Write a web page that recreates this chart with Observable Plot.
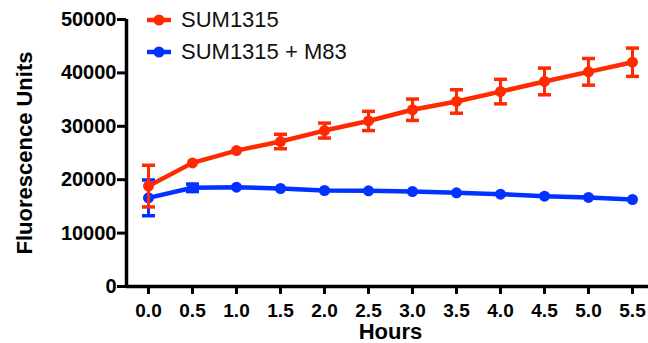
<!DOCTYPE html>
<html>
<head>
<meta charset="utf-8">
<script src="https://cdn.jsdelivr.net/npm/d3@7"></script>
<script src="https://cdn.jsdelivr.net/npm/@observablehq/plot@0.6"></script>
<style>
  html, body { margin: 0; padding: 0; background: white; }
  #wrap { position: relative; width: 648px; height: 343px; }
  #legend { position: absolute; left: 146px; top: 4px; font-family: "Liberation Sans", Arial, sans-serif; font-size: 22px; color: #111; }
  .item { display: flex; align-items: center; height: 32px; }
  .item svg { margin-right: 9px; }
</style>
</head>
<body>
<div id="wrap"><div id="legend"></div></div>
<script>
const hours = [0.0, 0.5, 1.0, 1.5, 2.0, 2.5, 3.0, 3.5, 4.0, 4.5, 5.0, 5.5];
const seriesNames = ["SUM1315", "SUM1315 + M83"];
const seriesColors = ["#ff2a00", "#0033ff"];
const sum1315Mean = [18800, 23150, 25450, 27150, 29200, 31000, 33100, 34650, 36500, 38400, 40200, 42000];
const sum1315Err  = [3900, 500, 400, 1350, 1400, 1800, 2000, 2200, 2300, 2500, 2500, 2650];
const m83Mean = [16600, 18480, 18600, 18350, 17980, 17920, 17790, 17540, 17290, 16910, 16670, 16290];
const m83Err  = [3350, 700, 300, 300, 300, 300, 300, 300, 300, 300, 300, 300];
const yTicks = [0, 10000, 20000, 30000, 40000, 50000];
const xDomain = [-0.25, 5.682];
const yDomain = [0, 50000];
const yTitle = "Fluorescence Units";
const xTitle = "Hours";

function rows(name, means, errs) {
  return hours.map((h, i) => ({series: name, hour: h, value: means[i], lo: means[i] - errs[i], hi: means[i] + errs[i], err: errs[i]}));
}
const blueData = rows(seriesNames[1], m83Mean, m83Err);
const redData = rows(seriesNames[0], sum1315Mean, sum1315Err);

const hline = { draw(ctx, size) { const w = Math.sqrt(size / Math.PI); ctx.moveTo(-w, 0); ctx.lineTo(w, 0); } };

function seriesMarks(data, color) {
  const withBars = data.filter(d => d.err > 600);
  return [
    Plot.ruleX(withBars, {x: "hour", y1: "lo", y2: "hi", stroke: color, strokeWidth: 3}),
    Plot.dot(withBars, {x: "hour", y: "lo", symbol: hline, r: 6.5, stroke: color, strokeWidth: 3.5, fill: "none"}),
    Plot.dot(withBars, {x: "hour", y: "hi", symbol: hline, r: 6.5, stroke: color, strokeWidth: 3.5, fill: "none"}),
    Plot.line(data, {x: "hour", y: "value", stroke: color, strokeWidth: 4.5}),
    Plot.dot(data, {x: "hour", y: "value", r: 5.5, fill: color, stroke: "none"})
  ];
}

const chart = Plot.plot({
  width: 648,
  height: 343,
  marginLeft: 126,
  marginRight: 0,
  marginTop: 19,
  marginBottom: 57,
  x: {domain: xDomain},
  y: {domain: yDomain},
  style: {fontFamily: "'Liberation Sans', Arial, sans-serif", fontSize: "19px", color: "black", background: "white"},
  marks: [
    Plot.axisY(yTicks, {tickSize: 9, strokeWidth: 3, tickPadding: 1, tickFormat: d => String(d), fontWeight: "bold", fontSize: 20, label: null}),
    Plot.axisX(hours, {tickSize: 8, strokeWidth: 3, tickPadding: 9, tickFormat: d => d.toFixed(1), fontWeight: "bold", fontSize: 19, label: null}),
    Plot.ruleY([yDomain[0]], {stroke: "black", strokeWidth: 3.5}),
    Plot.ruleX([xDomain[0]], {y1: yDomain[0], y2: yDomain[1], stroke: "black", strokeWidth: 3.5}),
    Plot.text([yTitle], {text: d => d, frameAnchor: "left", dx: -102, rotate: -90, textAnchor: "middle", lineAnchor: "middle", fontSize: 22, fontWeight: "bold", fill: "black"}),
    Plot.text([xTitle], {text: d => d, frameAnchor: "bottom", dx: 3, dy: 45, textAnchor: "middle", lineAnchor: "middle", fontSize: 22, fontWeight: "bold", fill: "black"}),
    ...seriesMarks(blueData, seriesColors[1]),
    ...seriesMarks(redData, seriesColors[0])
  ]
});
const wrap = document.getElementById("wrap");
wrap.insertBefore(chart, wrap.firstChild);

const legend = document.getElementById("legend");
seriesNames.forEach((name, i) => {
  const item = document.createElement("div");
  item.className = "item";
  item.innerHTML = `<svg width="26" height="14"><line x1="1" x2="25" y1="7" y2="7" stroke="${seriesColors[i]}" stroke-width="4.5"/><circle cx="13" cy="7" r="5.5" fill="${seriesColors[i]}"/></svg><span>${name}</span>`;
  legend.appendChild(item);
});
</script>
</body>
</html>
